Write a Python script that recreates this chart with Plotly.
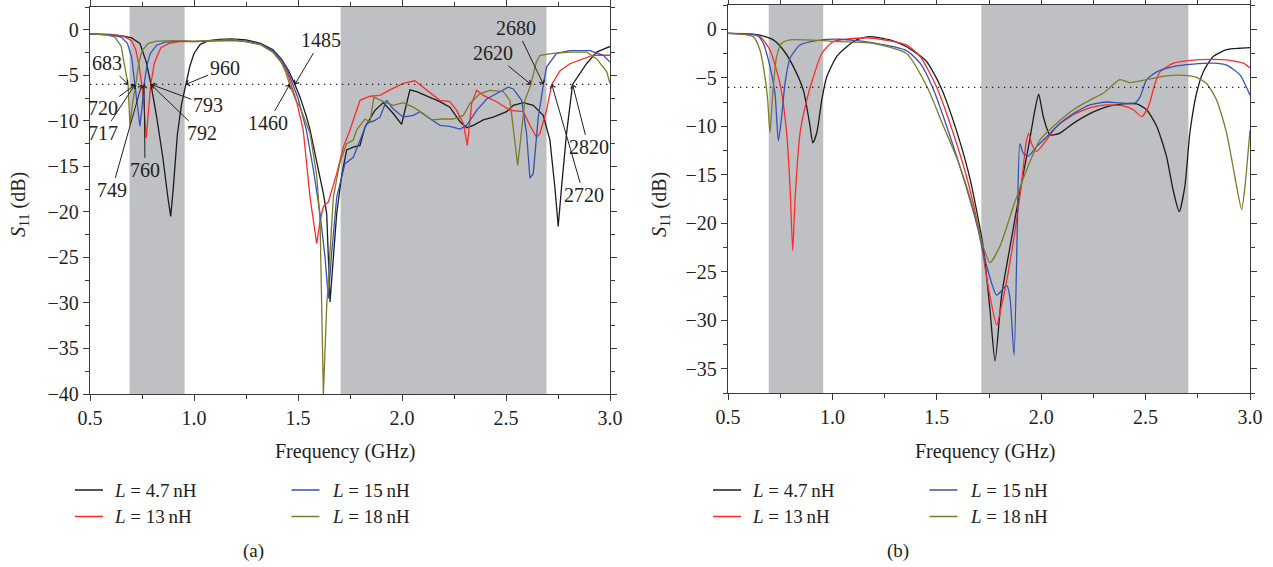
import plotly.graph_objects as go

W, H = 1273, 567
FONT = "Liberation Serif"
INK = "#231f20"

# ---------------- (a) measured S11 ----------------
fa_47 = [0.50, 0.60, 0.65, 0.70, 0.74, 0.77, 0.793, 0.82, 0.85, 0.875, 0.888, 0.90, 0.92, 0.94, 0.96,
         0.98, 1.00, 1.03, 1.07, 1.12, 1.18, 1.25, 1.32, 1.38, 1.42, 1.455, 1.485, 1.51, 1.54, 1.558,
         1.59, 1.622, 1.638, 1.654, 1.67, 1.686, 1.71, 1.734, 1.766, 1.798, 1.822, 1.87, 1.91, 1.958,
         1.998, 2.038, 2.07, 2.134, 2.182, 2.23, 2.279, 2.311, 2.343, 2.391, 2.439, 2.503, 2.535, 2.583,
         2.631, 2.679, 2.711, 2.735, 2.751, 2.767, 2.791, 2.82, 2.856, 2.888, 2.936, 3.0]
sa_47 = [-0.45, -0.55, -0.65, -0.9, -1.5, -3.5, -6.0, -9.5, -14.0, -18.5, -20.5, -17.5, -11.5, -8.2, -6.0,
         -4.0, -2.6, -1.6, -1.2, -1.05, -1.0, -1.1, -1.5, -2.2, -3.2, -4.5, -6.0, -7.4, -9.5, -11.0,
         -14.5, -18.0, -20.2, -29.9, -25.0, -20.2, -16.0, -13.2, -12.9, -12.7, -10.7, -8.85, -8.0, -9.2,
         -10.4, -6.6, -6.8, -7.4, -7.9, -8.5, -10.1, -10.75, -10.5, -9.9, -9.6, -9.0, -8.3, -8.0,
         -8.3, -9.4, -12.1, -17.3, -21.6, -17.3, -11.4, -6.0, -4.8, -3.7, -2.45, -1.83]

fa_13 = [0.50, 0.60, 0.66, 0.70, 0.72, 0.735, 0.749, 0.76, 0.77, 0.78, 0.792, 0.81, 0.84, 0.88, 0.93,
         1.00, 1.10, 1.19, 1.25, 1.32, 1.38, 1.42, 1.446, 1.465, 1.49, 1.525, 1.558, 1.59, 1.606, 1.622,
         1.646, 1.686, 1.718, 1.75, 1.798, 1.846, 1.894, 1.942, 2.006, 2.062, 2.118, 2.182, 2.23, 2.263,
         2.295, 2.314, 2.335, 2.359, 2.391, 2.455, 2.519, 2.583, 2.615, 2.647, 2.663, 2.695, 2.72, 2.76,
         2.807, 2.872, 2.92, 3.0]
sa_13 = [-0.45, -0.5, -0.7, -1.2, -2.2, -3.8, -6.0, -8.5, -11.9, -9.0, -6.0, -3.6, -2.0, -1.5, -1.3,
         -1.3, -1.25, -1.15, -1.3, -1.6, -2.4, -3.5, -4.6, -6.0, -7.6, -11.0, -18.4, -23.5, -21.0, -19.4,
         -18.9, -15.8, -12.9, -11.0, -7.75, -7.3, -7.2, -6.6, -5.9, -5.6, -6.65, -7.75, -7.9, -8.85,
         -10.3, -12.7, -8.1, -6.65, -7.2, -7.9, -8.85, -9.0, -10.5, -11.8, -11.4, -8.85, -6.0, -4.5,
         -3.73, -3.2, -2.8, -2.8]

fa_15 = [0.50, 0.60, 0.65, 0.68, 0.70, 0.717, 0.73, 0.74, 0.75, 0.76, 0.775, 0.79, 0.82, 0.86, 0.95,
         1.00, 1.10, 1.19, 1.25, 1.32, 1.38, 1.42, 1.45, 1.475, 1.50, 1.54, 1.575, 1.606, 1.63, 1.646,
         1.66, 1.686, 1.726, 1.766, 1.798, 1.83, 1.87, 1.894, 1.926, 1.958, 2.006, 2.054, 2.086, 2.134,
         2.182, 2.23, 2.279, 2.311, 2.359, 2.407, 2.455, 2.511, 2.535, 2.575, 2.599, 2.615, 2.631, 2.655,
         2.68, 2.695, 2.743, 2.807, 2.904, 2.968, 3.0]
sa_15 = [-0.45, -0.55, -0.8, -1.5, -3.0, -6.0, -8.8, -10.6, -8.5, -6.0, -3.8, -2.6, -1.7, -1.35, -1.25,
         -1.3, -1.2, -1.15, -1.25, -1.55, -2.3, -3.3, -4.5, -6.0, -7.5, -11.0, -15.5, -20.2, -25.0, -29.5,
         -25.0, -18.4, -14.7, -14.0, -12.1, -10.3, -9.95, -9.6, -7.75, -8.7, -9.6, -9.4, -9.0, -9.8,
         -10.5, -10.6, -10.9, -10.5, -8.85, -7.6, -7.0, -6.3, -6.5, -7.75, -11.4, -16.3, -15.8, -9.6,
         -6.0, -4.1, -2.6, -2.3, -2.3, -2.8, -3.55]

fa_18 = [0.50, 0.58, 0.62, 0.65, 0.665, 0.683, 0.692, 0.705, 0.72, 0.735, 0.75, 0.78, 0.82, 0.90, 1.00,
         1.10, 1.19, 1.25, 1.32, 1.38, 1.42, 1.44, 1.46, 1.49, 1.51, 1.558, 1.59, 1.606, 1.615, 1.622,
         1.638, 1.67, 1.70, 1.734, 1.766, 1.782, 1.822, 1.846, 1.865, 1.91, 1.958, 2.006, 2.054, 2.102,
         2.142, 2.198, 2.247, 2.295, 2.327, 2.375, 2.423, 2.487, 2.519, 2.543, 2.556, 2.57, 2.591, 2.62,
         2.645, 2.663, 2.727, 2.807, 2.888, 2.936, 2.984, 3.0]
sa_18 = [-0.45, -0.55, -0.8, -1.8, -3.8, -6.0, -10.4, -8.0, -6.0, -3.6, -2.3, -1.5, -1.25, -1.2, -1.25,
         -1.2, -1.1, -1.3, -1.65, -2.5, -3.6, -4.6, -6.0, -7.8, -8.5, -11.4, -16.0, -21.0, -30.0, -40.0,
         -30.4, -18.4, -14.7, -12.5, -12.1, -11.0, -9.8, -10.1, -7.4, -7.9, -8.3, -8.0, -8.5, -9.2,
         -9.9, -9.8, -9.8, -9.4, -8.1, -7.0, -6.65, -6.8, -7.75, -12.1, -14.9, -12.1, -7.75, -6.0,
         -3.6, -2.8, -2.6, -2.45, -2.45, -3.2, -4.6, -5.9]

# ---------------- (b) simulated S11 ----------------
fb_47 = [0.50, 0.60, 0.653, 0.717, 0.765, 0.813, 0.861, 0.893, 0.906, 0.925, 0.949, 0.973, 1.021, 1.069,
         1.116, 1.18, 1.276, 1.355, 1.45, 1.52, 1.595, 1.66, 1.722, 1.755, 1.779, 1.81, 1.85, 1.90, 1.94,
         1.97, 1.988, 2.01, 2.042, 2.09, 2.154, 2.233, 2.313, 2.393, 2.457, 2.505, 2.553, 2.60, 2.632,
         2.661, 2.688, 2.712, 2.744, 2.776, 2.824, 2.888, 2.952, 3.0]
sb_47 = [-0.42, -0.5, -0.6, -1.1, -2.14, -3.85, -6.3, -10.0, -11.7, -10.7, -7.3, -4.9, -2.8, -1.8,
         -1.1, -0.76, -1.1, -1.8, -3.3, -6.0, -10.5, -15.5, -22.4, -29.0, -34.2, -27.5, -22.5, -16.5, -12.0,
         -8.3, -6.7, -9.0, -10.9, -10.7, -9.7, -8.7, -8.0, -7.7, -7.7, -8.3, -10.0, -13.1, -16.6,
         -18.8, -16.2, -10.7, -6.6, -4.4, -2.8, -2.1, -1.96, -1.9]

fb_13 = [0.50, 0.60, 0.653, 0.701, 0.749, 0.781, 0.797, 0.81, 0.821, 0.845, 0.877, 0.909, 0.949, 1.004,
         1.116, 1.196, 1.355, 1.42, 1.50, 1.58, 1.65, 1.70, 1.75, 1.787, 1.81, 1.835, 1.875, 1.906,
         1.927, 1.94, 1.954, 1.978, 2.026, 2.074, 2.154, 2.233, 2.313, 2.393, 2.441, 2.481, 2.513, 2.545,
         2.569, 2.633, 2.712, 2.824, 2.904, 2.968, 3.0]
sb_13 = [-0.42, -0.5, -0.76, -2.14, -5.6, -10.7, -16.2, -22.8, -17.6, -10.7, -7.3, -4.9, -2.5, -1.28,
         -0.93, -0.93, -1.62, -2.8, -6.0, -10.8, -15.8, -20.5, -27.0, -30.5, -28.5, -25.9, -20.7, -15.9,
         -11.8, -10.7, -11.8, -12.6, -11.4, -10.04, -8.8, -8.1, -7.8, -7.9, -8.3, -9.0, -8.0, -5.6,
         -4.4, -3.5, -3.2, -3.1, -3.2, -3.5, -4.0]

fb_15 = [0.50, 0.637, 0.669, 0.701, 0.725, 0.741, 0.757, 0.773, 0.797, 0.845, 0.925, 1.036, 1.196, 1.355,
         1.42, 1.48, 1.56, 1.63, 1.69, 1.74, 1.787, 1.835, 1.85, 1.87, 1.886, 1.898, 1.914, 1.938,
         1.978, 2.026, 2.09, 2.154, 2.233, 2.313, 2.377, 2.449, 2.473, 2.505, 2.553, 2.633, 2.728, 2.824,
         2.888, 2.952, 3.0]
sb_15 = [-0.42, -0.59, -1.45, -3.85, -6.6, -11.5, -9.0, -5.6, -3.0, -1.62, -1.17, -1.03, -1.4, -2.2,
         -3.5, -6.0, -10.8, -15.5, -20.0, -24.5, -27.4, -26.4, -27.6, -33.6, -20.0, -11.8, -12.8, -13.1,
         -12.1, -11.1, -9.7, -8.7, -7.8, -7.5, -7.6, -7.6, -7.0, -5.2, -4.4, -3.85, -3.6, -3.5,
         -3.7, -4.7, -6.8]

fb_18 = [0.50, 0.621, 0.653, 0.677, 0.69, 0.701, 0.709, 0.717, 0.733, 0.757, 0.797, 1.036, 1.196, 1.355,
         1.455, 1.53, 1.60, 1.675, 1.722, 1.755, 1.802, 1.866, 1.93, 1.994, 2.074, 2.154, 2.233, 2.297,
         2.345, 2.377, 2.425, 2.505, 2.60, 2.68, 2.744, 2.792, 2.84, 2.888, 2.936, 2.96, 2.976, 3.0]
sb_18 = [-0.42, -0.76, -2.14, -4.9, -7.3, -10.66, -8.3, -5.9, -2.8, -1.45, -1.1, -1.28, -1.45, -2.5,
         -6.0, -9.9, -13.5, -18.5, -22.4, -24.06, -22.4, -18.3, -14.5, -11.4, -9.7, -8.3, -7.3, -6.6,
         -5.7, -5.2, -5.5, -5.2, -4.8, -4.75, -4.95, -5.6, -7.3, -10.7, -16.2, -18.6, -16.2, -10.4]

series_names = ["<i>L</i> = 4.7\u2009nH", "<i>L</i> = 13\u2009nH", "<i>L</i> = 15\u2009nH", "<i>L</i> = 18\u2009nH"]
series_colors = ["#1c1c1c", "#ff2a2a", "#3553b5", "#7d7b2a"]
panel_a = [(fa_47, sa_47), (fa_13, sa_13), (fa_15, sa_15), (fa_18, sa_18)]
panel_b = [(fb_47, sb_47), (fb_13, sb_13), (fb_15, sb_15), (fb_18, sb_18)]

# operating bands (GHz)
bands_a = [(0.69, 0.955), (1.705, 2.695)]
bands_b = [(0.695, 0.956), (1.713, 2.705)]
threshold_db = -6

# -6 dB edge frequencies marked on (a), MHz
edge_mhz = [683, 720, 717, 749, 760, 793, 792, 960, 1460, 1485, 2620, 2680, 2720, 2820]
# text offsets (pixels) of each edge label from its arrow tip
edge_offsets = [(-21, -21), (-33, 24), (-32, 49), (-30, 106), (1, 86), (57, 21), (51, 49), (39, -16),
                (-22, 39), (26, -44), (-38, -31), (-27, -56), (32, 111), (16, 63)]


def px(x):
    return x / W


def py(y):
    return 1 - y / H


fig = go.Figure()

for (f, s), c in zip(panel_a, series_colors):
    fig.add_trace(go.Scatter(x=f, y=s, mode="lines", line=dict(color=c, width=1.3),
                             xaxis="x", yaxis="y", showlegend=False, hoverinfo="skip"))
for (f, s), c in zip(panel_b, series_colors):
    fig.add_trace(go.Scatter(x=f, y=s, mode="lines", line=dict(color=c, width=1.3, shape="spline", smoothing=0.6),
                             xaxis="x2", yaxis="y2", showlegend=False, hoverinfo="skip"))

shapes = []
for xr, yr, bands in (("x", "y", bands_a), ("x2", "y2", bands_b)):
    for b0, b1 in bands:
        shapes.append(dict(type="rect", xref=xr, yref=yr + " domain", x0=b0, x1=b1, y0=0, y1=1,
                           fillcolor="#bfc0c4", line=dict(width=0), layer="below"))
    shapes.append(dict(type="line", xref=xr, yref=yr, x0=0.5, x1=3.0, y0=threshold_db, y1=threshold_db,
                       line=dict(color=INK, width=1.2, dash="1.3px,4.7px")))

annotations = []
for mhz, (ax, ay) in zip(edge_mhz, edge_offsets):
    annotations.append(dict(x=mhz / 1000, y=threshold_db, xref="x", yref="y", text=str(mhz),
                            showarrow=True, ax=ax, ay=ay, arrowhead=4, arrowsize=1.1, arrowwidth=1,
                            arrowcolor=INK, standoff=0, font=dict(family=FONT, size=20, color=INK)))

# legends, axis titles and captions for both panels
for x0, cap, xtitle_c in ((0, "(a)", 345), (638, "(b)", 985)):
    cols = [(75, 112), (291.5, 330)]
    rows = [490, 516.5]
    order = [(0, 0), (1, 0), (0, 1), (1, 1)]  # (row, col) for 4.7, 13, 15, 18
    for (r, cidx), name, color in zip(order, series_names, series_colors):
        lx, tx = cols[cidx]
        shapes.append(dict(type="line", xref="paper", yref="paper", x0=px(x0 + lx), x1=px(x0 + lx + 28),
                           y0=py(rows[r]), y1=py(rows[r]), line=dict(color=color, width=1.5)))
        annotations.append(dict(x=px(x0 + tx), y=py(rows[r]), xref="paper", yref="paper", text=name,
                                showarrow=False, xanchor="left", yanchor="middle",
                                font=dict(family=FONT, size=19, color=INK)))
    annotations.append(dict(x=px(x0 + 253 + (7 if x0 else 0)), y=py(551), xref="paper", yref="paper", text=cap,
                            showarrow=False, xanchor="center", yanchor="middle",
                            font=dict(family=FONT, size=19, color=INK)))
    annotations.append(dict(x=px(xtitle_c), y=py(451.5), xref="paper", yref="paper", text="Frequency (GHz)",
                            showarrow=False, xanchor="center", yanchor="middle",
                            font=dict(family=FONT, size=20, color=INK)))

for xc, yc in ((20, 205), (661, 205)):
    annotations.append(dict(x=px(xc), y=py(yc), xref="paper", yref="paper",
                            text="<i>S</i><sub>11</sub> (dB)", textangle=-90, showarrow=False,
                            xanchor="center", yanchor="middle", font=dict(family=FONT, size=20, color=INK)))


def xaxis(domain):
    return dict(domain=domain, range=[0.5, 3.0], tick0=0.5, dtick=0.5, tickformat=".1f",
                showline=True, linecolor="#3a3a3a", linewidth=1.3, mirror="allticks",
                ticks="outside", ticklen=6, tickwidth=1.2, tickcolor="#3a3a3a", automargin=False,
                minor=dict(dtick=0.25, tick0=0.5, ticks="outside", ticklen=4, tickwidth=1.1, tickcolor="#3a3a3a"),
                showgrid=False, zeroline=False, fixedrange=True,
                tickfont=dict(family=FONT, size=20, color=INK))


def yaxis(domain, anchor, lo):
    return dict(domain=domain, anchor=anchor, range=[lo, 2.5], tick0=0, dtick=5,
                showline=True, linecolor="#3a3a3a", linewidth=1.3, mirror="allticks",
                ticks="outside", ticklen=6, tickwidth=1.2, tickcolor="#3a3a3a", automargin=False,
                minor=dict(dtick=2.5, tick0=0, ticks="outside", ticklen=4, tickwidth=1.1, tickcolor="#3a3a3a"),
                showgrid=False, zeroline=False, fixedrange=True,
                tickfont=dict(family=FONT, size=20, color=INK))


xa = xaxis([px(90), px(610)])
xa["anchor"] = "y"
xb = xaxis([px(728), px(1250)])
xb["anchor"] = "y2"

fig.update_layout(
    width=W, height=H,
    margin=dict(l=0, r=0, t=0, b=0, autoexpand=False),
    paper_bgcolor="white", plot_bgcolor="white",
    xaxis=xa, yaxis=yaxis([py(394), py(7)], "x", -40),
    xaxis2=xb, yaxis2=yaxis([py(393), py(5)], "x2", -37.5),
    shapes=shapes, annotations=annotations,
    font=dict(family=FONT, color=INK),
)

fig.write_html("out.html")
